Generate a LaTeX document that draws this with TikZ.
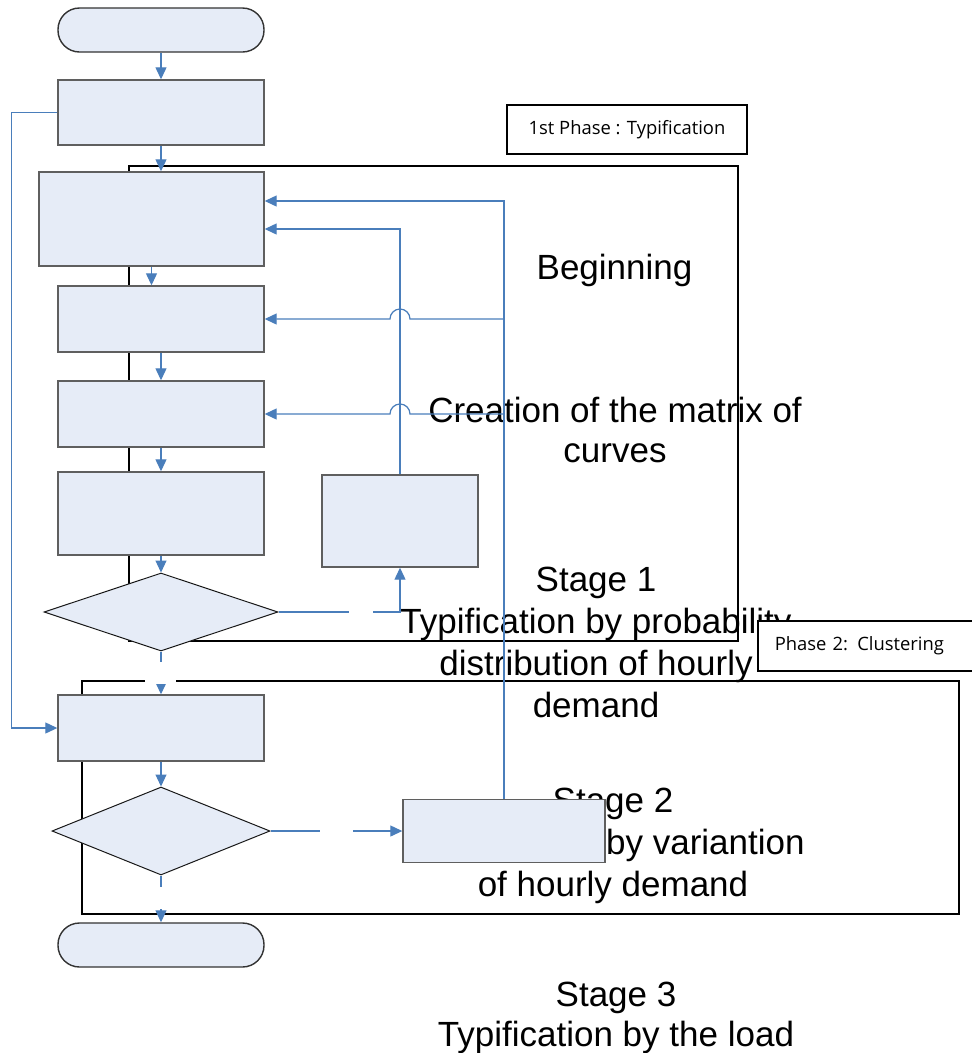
\documentclass[tikz,border=0pt]{standalone}
\usepackage{fontspec}
\setmainfont{Liberation Sans}
\newfontfamily\labfont{Open Sans}
\usetikzlibrary{shapes.geometric,arrows.meta}
\definecolor{connblue}{HTML}{4A7EBB}
\definecolor{boxfill}{HTML}{E6ECF7}
\definecolor{boxline}{HTML}{5F5F5F}
\begin{document}
\begin{tikzpicture}[x=1pt,y=1pt,
  procbox/.style={rectangle,draw=boxline,line width=1.4pt,fill=boxfill,inner sep=0pt},
  termbox/.style={procbox,draw=black!80,rounded corners=21.5pt},
  decide/.style={diamond,draw=black!90,line width=1pt,fill=boxfill,inner sep=0pt},
  phaseframe/.style={rectangle,draw=black,line width=2pt,inner sep=0pt},
  phaselab/.style={rectangle,draw=black,line width=1.6pt,fill=white,font=\labfont\fontsize{18.4}{22}\selectfont},
  flow/.style={draw=connblue,line width=1.2pt,-{Triangle[length=12pt,width=11pt]}},
  stagetext/.style={inner sep=0pt,anchor=north,align=center},
  gapcover/.style={rectangle,fill=white,draw=none,inner sep=0pt}
]
\useasboundingbox (0,0) rectangle (972,-1053);

% phase frames
\node[phaseframe,minimum width=609pt,minimum height=475pt] (ph1) at (433.5,-403.5) {};
\node[phaseframe,minimum width=877pt,minimum height=233pt] (ph2) at (520.5,-797.5) {};

% stage texts
\node[stagetext,font=\fontsize{35}{42}\selectfont] (tbeg) at (614.5,-254) {Beginning};
\node[stagetext,font=\fontsize{35}{40}\selectfont] (tcre) at (615,-396.5) {Creation of the matrix of\\curves};
\node[stagetext,font=\fontsize{35}{42}\selectfont] (ts1) at (596,-566.5) {Stage 1\\Typification by probability\\distribution of hourly\\demand};
\node[stagetext,font=\fontsize{35}{42}\selectfont] (ts2) at (613,-787.5) {Stage 2\\Typification by variantion\\of hourly demand};
\node[stagetext,font=\fontsize{35}{40}\selectfont] (ts3) at (616,-981.5) {Stage 3\\Typification by the load};

% flowchart shapes
\node[termbox,minimum width=206pt,minimum height=44pt] (start) at (161,-30) {};
\node[procbox,minimum width=206pt,minimum height=65pt] (b1) at (161,-112.5) {};
\node[procbox,minimum width=225pt,minimum height=94pt] (b2) at (151.5,-219) {};
\node[procbox,minimum width=206pt,minimum height=66pt] (b3) at (161,-319) {};
\node[procbox,minimum width=206pt,minimum height=66pt] (b4) at (161,-414) {};
\node[procbox,minimum width=206pt,minimum height=83pt] (b5) at (161,-513.5) {};
\node[procbox,minimum width=156pt,minimum height=92pt] (side) at (400,-521) {};
\node[decide,minimum width=234pt,minimum height=78pt] (d1) at (161,-612) {};
\node[procbox,minimum width=206pt,minimum height=66pt] (p2b) at (161,-728) {};
\node[decide,minimum width=218pt,minimum height=88pt] (d2) at (161,-831) {};
\node[procbox,minimum width=202pt,minimum height=63pt] (rbox) at (504,-831) {};
\node[termbox,minimum width=206pt,minimum height=44pt] (end) at (161,-945) {};

% phase labels
\node[phaselab,minimum width=240pt,minimum height=49pt,inner sep=0pt] (lab1) at (627,-129.5) {1st Phase : Typification};
\node[phaselab,anchor=west,minimum height=50pt,inner xsep=17pt,inner ysep=0pt,text width=200pt,align=left] (lab2) at (757,-646) {Phase 2: Clustering};

% connectors
\draw[flow] (start) -- (b1);
\draw[flow] (b1.south) -- (b1.south |- b2.north);
\draw[flow] (b2.south) -- (b2.south |- b3.north);
\draw[flow] (b3) -- (b4);
\draw[flow] (b4) -- (b5);
\draw[flow] (b5) -- (d1);
\draw[flow] (d1.south) -- (p2b.north);
\draw[flow] (b1.west) -- ++(-46,0) |- (p2b.west);
\draw[flow] (rbox.north) |- ([yshift=18pt]b2.east);
\draw[flow] (side.north) |- ([yshift=-10pt]b2.east);
\draw[flow] (rbox.north |- b3.east) -- ([xshift=10pt]side.north |- b3.east)
  arc[start angle=0,end angle=180,radius=10pt] -- (b3.east);
\draw[flow] (rbox.north |- b4.east) -- ([xshift=10pt]side.north |- b4.east)
  arc[start angle=0,end angle=180,radius=10pt] -- (b4.east);
\draw[flow] (d1.east) -| (side.south);
\draw[flow] (p2b) -- (d2);
\draw[flow] (d2.east) -- (rbox.west);
\draw[flow] (d2.south) -- (end.north);

% empty white labels on connectors
\node[gapcover,minimum width=31pt,minimum height=22pt] (g1) at (160.5,-673) {};
\node[gapcover,minimum width=24pt,minimum height=12pt] (g2) at (361,-612) {};
\node[gapcover,minimum width=33pt,minimum height=12pt] (g3) at (336.5,-831) {};
\node[gapcover,minimum width=31pt,minimum height=22pt] (g4) at (160.5,-898) {};
\end{tikzpicture}
\end{document}
